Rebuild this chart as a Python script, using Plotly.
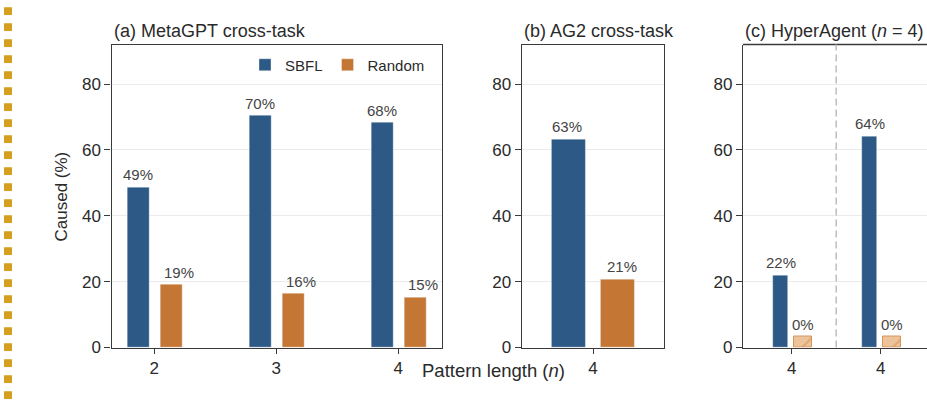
import plotly.graph_objects as go

# ---------------- data ----------------
meta_lengths = ["2", "3", "4"]
meta_sbfl = [48.6, 70.3, 68.3]
meta_random = [19.0, 16.3, 15.3]

ag2_lengths = ["4"]
ag2_sbfl = [63.3]
ag2_random = [20.8]

hyper_lengths = ["4", "4"]
hyper_sbfl = [22.0, 64.1]
hyper_random = [0.0, 0.0]

y_tick_vals = [0, 20, 40, 60, 80]

# ---------------- style ----------------
W, H = 927, 403
FONT = "Liberation Sans, Arial, Helvetica, sans-serif"
C_SBFL = "#2C5985"
C_RAND = "#C47634"
AX = "#3A3A3A"
TXT = "#2A2A2A"
ZERO_STUB = 3.3  # display height for 0% bars

def px_x(p):
    return p / W

def px_y(p):
    return 1 - p / H

ydom = [px_y(347.5), px_y(44.5)]

panels = [
    dict(key="", title="(a) MetaGPT cross-task", lengths=meta_lengths, sbfl=meta_sbfl, rand=meta_random,
         dom=[px_x(111.5), px_x(441.7)], rng=[-0.351, 2.356],
         s_off=-0.217, s_w=0.178, r_off=0.048, r_w=0.18, s_lab=-0.131, r_lab=0.2, mirror=True),
    dict(key="2", title="(b) AG2 cross-task", lengths=ag2_lengths, sbfl=ag2_sbfl, rand=ag2_random,
         dom=[px_x(521.7), px_x(664.3)], rng=[-0.5, 0.5],
         s_off=-0.2924, s_w=0.2384, r_off=0.0512, r_w=0.2405, s_lab=-0.18, r_lab=0.2, mirror=True),
    dict(key="3", title="(c) HyperAgent (<i>n</i> = 4)", lengths=hyper_lengths, sbfl=hyper_sbfl, rand=hyper_random,
         dom=[px_x(743), 1.0], rng=[-0.547, 1.52],
         s_off=-0.2056, s_w=0.1685, r_off=0.029, r_w=0.1955, s_lab=-0.12, r_lab=0.127, mirror=False),
]

fig = go.Figure()
annotations = []
shapes = []

for k, p in enumerate(panels):
    xa = "x" + p["key"]
    ya = "y" + p["key"]
    idx = list(range(len(p["lengths"])))
    fig.add_trace(go.Bar(
        x=idx, y=p["sbfl"], name="SBFL", xaxis=xa, yaxis=ya,
        offset=p["s_off"], width=p["s_w"],
        marker=dict(color=C_SBFL, line=dict(color="rgba(255,255,255,0.6)", width=0.6)),
        showlegend=(k == 0), legendgroup="sbfl",
    ))
    zero = [v == 0 for v in p["rand"]]
    shown = [ZERO_STUB if z else v for v, z in zip(p["rand"], zero)]
    if any(zero):
        fig.add_trace(go.Bar(
            x=idx, y=shown, name="Random", xaxis=xa, yaxis=ya,
            offset=p["r_off"], width=p["r_w"],
            marker=dict(color="#EDC39B",
                        pattern=dict(shape="/", fgcolor="#D08A4C", bgcolor="#EDC39B", size=16, solidity=0.12),
                        line=dict(color="#D8955A", width=1)),
            showlegend=False, legendgroup="rand",
        ))
    else:
        fig.add_trace(go.Bar(
            x=idx, y=shown, name="Random", xaxis=xa, yaxis=ya,
            offset=p["r_off"], width=p["r_w"],
            marker=dict(color=C_RAND, line=dict(color="rgba(255,255,255,0.6)", width=0.6)),
            showlegend=(k == 0), legendgroup="rand",
        ))

    # value labels
    for i, v in enumerate(p["sbfl"]):
        annotations.append(dict(x=i + p["s_lab"], y=v, xref=xa, yref=ya, text=f"{round(v)}%",
                                showarrow=False, yanchor="bottom", yshift=2,
                                font=dict(size=15, color="#444444", family=FONT)))
    for i, (v, s) in enumerate(zip(p["rand"], shown)):
        annotations.append(dict(x=i + p["r_lab"], y=s, xref=xa, yref=ya, text=f"{round(v)}%",
                                showarrow=False, yanchor="bottom", yshift=2,
                                font=dict(size=15, color="#444444", family=FONT)))

    # panel title
    annotations.append(dict(x=p["dom"][0], y=px_y(43), xref="paper", yref="paper", text=p["title"],
                            showarrow=False, xanchor="left", yanchor="bottom",
                            font=dict(size=18, color=TXT, family=FONT)))

    lay_x = dict(domain=p["dom"], range=p["rng"], anchor=ya,
                 tickmode="array", tickvals=idx, ticktext=p["lengths"],
                 showline=True, linecolor=AX, linewidth=1.3, mirror=p["mirror"],
                 ticks="outside", ticklen=5, tickcolor=AX, tickwidth=1.2,
                 tickfont=dict(size=17, color=TXT, family=FONT),
                 showgrid=False, zeroline=False, fixedrange=True)
    lay_y = dict(domain=ydom, range=[0, 92], anchor=xa,
                 tickmode="array", tickvals=y_tick_vals,
                 showline=True, linecolor=AX, linewidth=1.3, mirror=p["mirror"],
                 ticks="outside", ticklen=6, tickcolor=AX, tickwidth=1.2,
                 tickfont=dict(size=17, color=TXT, family=FONT),
                 showgrid=True, gridcolor="#EBEBEB", gridwidth=1, zeroline=False, fixedrange=True)
    fig.update_layout(**{"xaxis" + p["key"]: lay_x, "yaxis" + p["key"]: lay_y})

    if not p["mirror"]:
        shapes.append(dict(type="line", xref=xa + " domain", yref=ya + " domain",
                           x0=0, x1=1, y0=1, y1=1, line=dict(color=AX, width=1.3)))

# dashed separator in panel (c)
shapes.append(dict(type="line", xref="x3", yref="y3 domain", x0=0.5, x1=0.5, y0=0, y1=1,
                   line=dict(color="#BDBDBD", width=1.5, dash="7px,4px")))

# golden dotted edge on the left
shapes.append(dict(type="line", xref="paper", yref="paper", x0=px_x(8), x1=px_x(8),
                   y0=px_y(7.3), y1=0, line=dict(color="#D49E1F", width=8, dash="7.7px,8.3px")))

# axis titles
annotations.append(dict(x=px_x(61), y=px_y(196.5), xref="paper", yref="paper", text="Caused (%)",
                        textangle=-90, showarrow=False, xanchor="center", yanchor="middle",
                        font=dict(size=17, color=TXT, family=FONT)))
annotations.append(dict(x=px_x(494), y=px_y(370), xref="paper", yref="paper",
                        text="Pattern length (<i>n</i>)", showarrow=False,
                        xanchor="center", yanchor="middle",
                        font=dict(size=18.5, color=TXT, family=FONT)))

fig.update_layout(
    width=W, height=H,
    margin=dict(l=0, r=0, t=0, b=0, autoexpand=False),
    paper_bgcolor="white", plot_bgcolor="white",
    barmode="overlay", bargap=0,
    font=dict(family=FONT, color=TXT),
    annotations=annotations, shapes=shapes,
    legend=dict(orientation="h", x=px_x(245), xanchor="left", y=px_y(65), yanchor="middle",
                font=dict(size=15, color=TXT, family=FONT), bgcolor="rgba(0,0,0,0)",
                itemclick=False, itemdoubleclick=False, traceorder="normal"),
    showlegend=True,
)

fig.write_html("out.html", config={"displayModeBar": False, "responsive": False},
               post_script="document.body.style.margin='0';document.body.style.overflow='hidden';")
